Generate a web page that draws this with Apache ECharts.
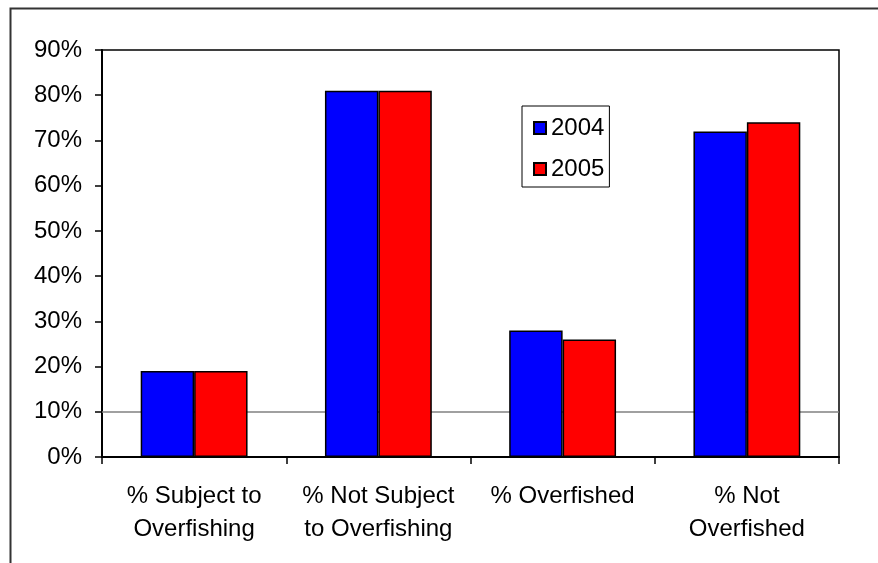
<!DOCTYPE html>
<html>
<head>
<meta charset="utf-8">
<script src="https://cdn.jsdelivr.net/npm/echarts@6/dist/echarts.min.js"></script>
<style>
  html, body { margin: 0; padding: 0; background: #fff; }
  #chart { width: 878px; height: 563px; }
</style>
</head>
<body>
<div id="chart"></div>
<script>
// Stock status categories and the share of stocks in each, by year
var categories = ['% Subject to\nOverfishing', '% Not Subject\nto Overfishing', '% Overfished', '% Not\nOverfished'];
var years = ['2004', '2005'];
var values2004 = [19, 81, 28, 72];
var values2005 = [19, 81, 26, 74];
var yTicks = { min: 0, max: 90, step: 10 };
var referenceLevel = 10;

var FONT = '"Liberation Sans", Arial, sans-serif';
var chart = echarts.init(document.getElementById('chart'), null, { renderer: 'canvas' });

function barSeries(name, data, color) {
  return {
    name: name,
    type: 'bar',
    data: data,
    barGap: '0%',
    barCategoryGap: '42%',
    z: 2,
    itemStyle: { color: color, borderColor: '#000', borderWidth: 1.5 }
  };
}

chart.setOption({
  animation: false,
  backgroundColor: '#fff',
  textStyle: { fontFamily: FONT },
  graphic: [{
    type: 'rect',
    shape: { x: 10.5, y: 8.5, width: 1000, height: 1000 },
    style: { fill: 'none', stroke: '#333', lineWidth: 2 },
    silent: true,
    z: 0
  }],
  grid: {
    left: 102, right: 39, top: 50, bottom: 106,
    show: true, borderColor: '#000', borderWidth: 1.5, backgroundColor: 'transparent'
  },
  legend: {
    data: years,
    orient: 'vertical',
    left: 522, top: 106,
    backgroundColor: '#fff',
    borderColor: '#000', borderWidth: 1,
    padding: [10, 5, 6, 11],
    itemWidth: 12, itemHeight: 12, itemGap: 17,
    itemTextGap: 10,
    icon: 'rect',
    textStyle: { fontSize: 24, color: '#000', fontFamily: FONT, lineHeight: 24 }
  },
  xAxis: {
    type: 'category',
    data: categories,
    axisLine: { lineStyle: { color: '#000', width: 2 } },
    axisTick: { show: true, length: 7, lineStyle: { color: '#000', width: 1.5 } },
    axisLabel: { interval: 0, fontSize: 24, color: '#000', lineHeight: 33, margin: 23, fontFamily: FONT, align: 'center' },
    splitLine: { show: false }
  },
  yAxis: {
    type: 'value',
    min: yTicks.min, max: yTicks.max, interval: yTicks.step,
    axisLine: { show: true, lineStyle: { color: '#000', width: 2 } },
    axisTick: { show: true, length: 7, lineStyle: { color: '#000', width: 1.5 } },
    axisLabel: { fontSize: 24, color: '#000', margin: 20, fontFamily: FONT, formatter: '{value}%' },
    splitLine: { show: false }
  },
  series: [
    barSeries(years[0], values2004, '#0000ff'),
    barSeries(years[1], values2005, '#ff0000'),
    {
      // single horizontal guide line, kept behind the bars
      type: 'line',
      data: [],
      silent: true,
      z: 1,
      markLine: {
        silent: true,
        z: 1,
        symbol: 'none',
        label: { show: false },
        lineStyle: { color: '#808080', width: 1.5, type: 'solid' },
        data: [{ yAxis: referenceLevel }]
      }
    }
  ]
});
</script>
</body>
</html>
